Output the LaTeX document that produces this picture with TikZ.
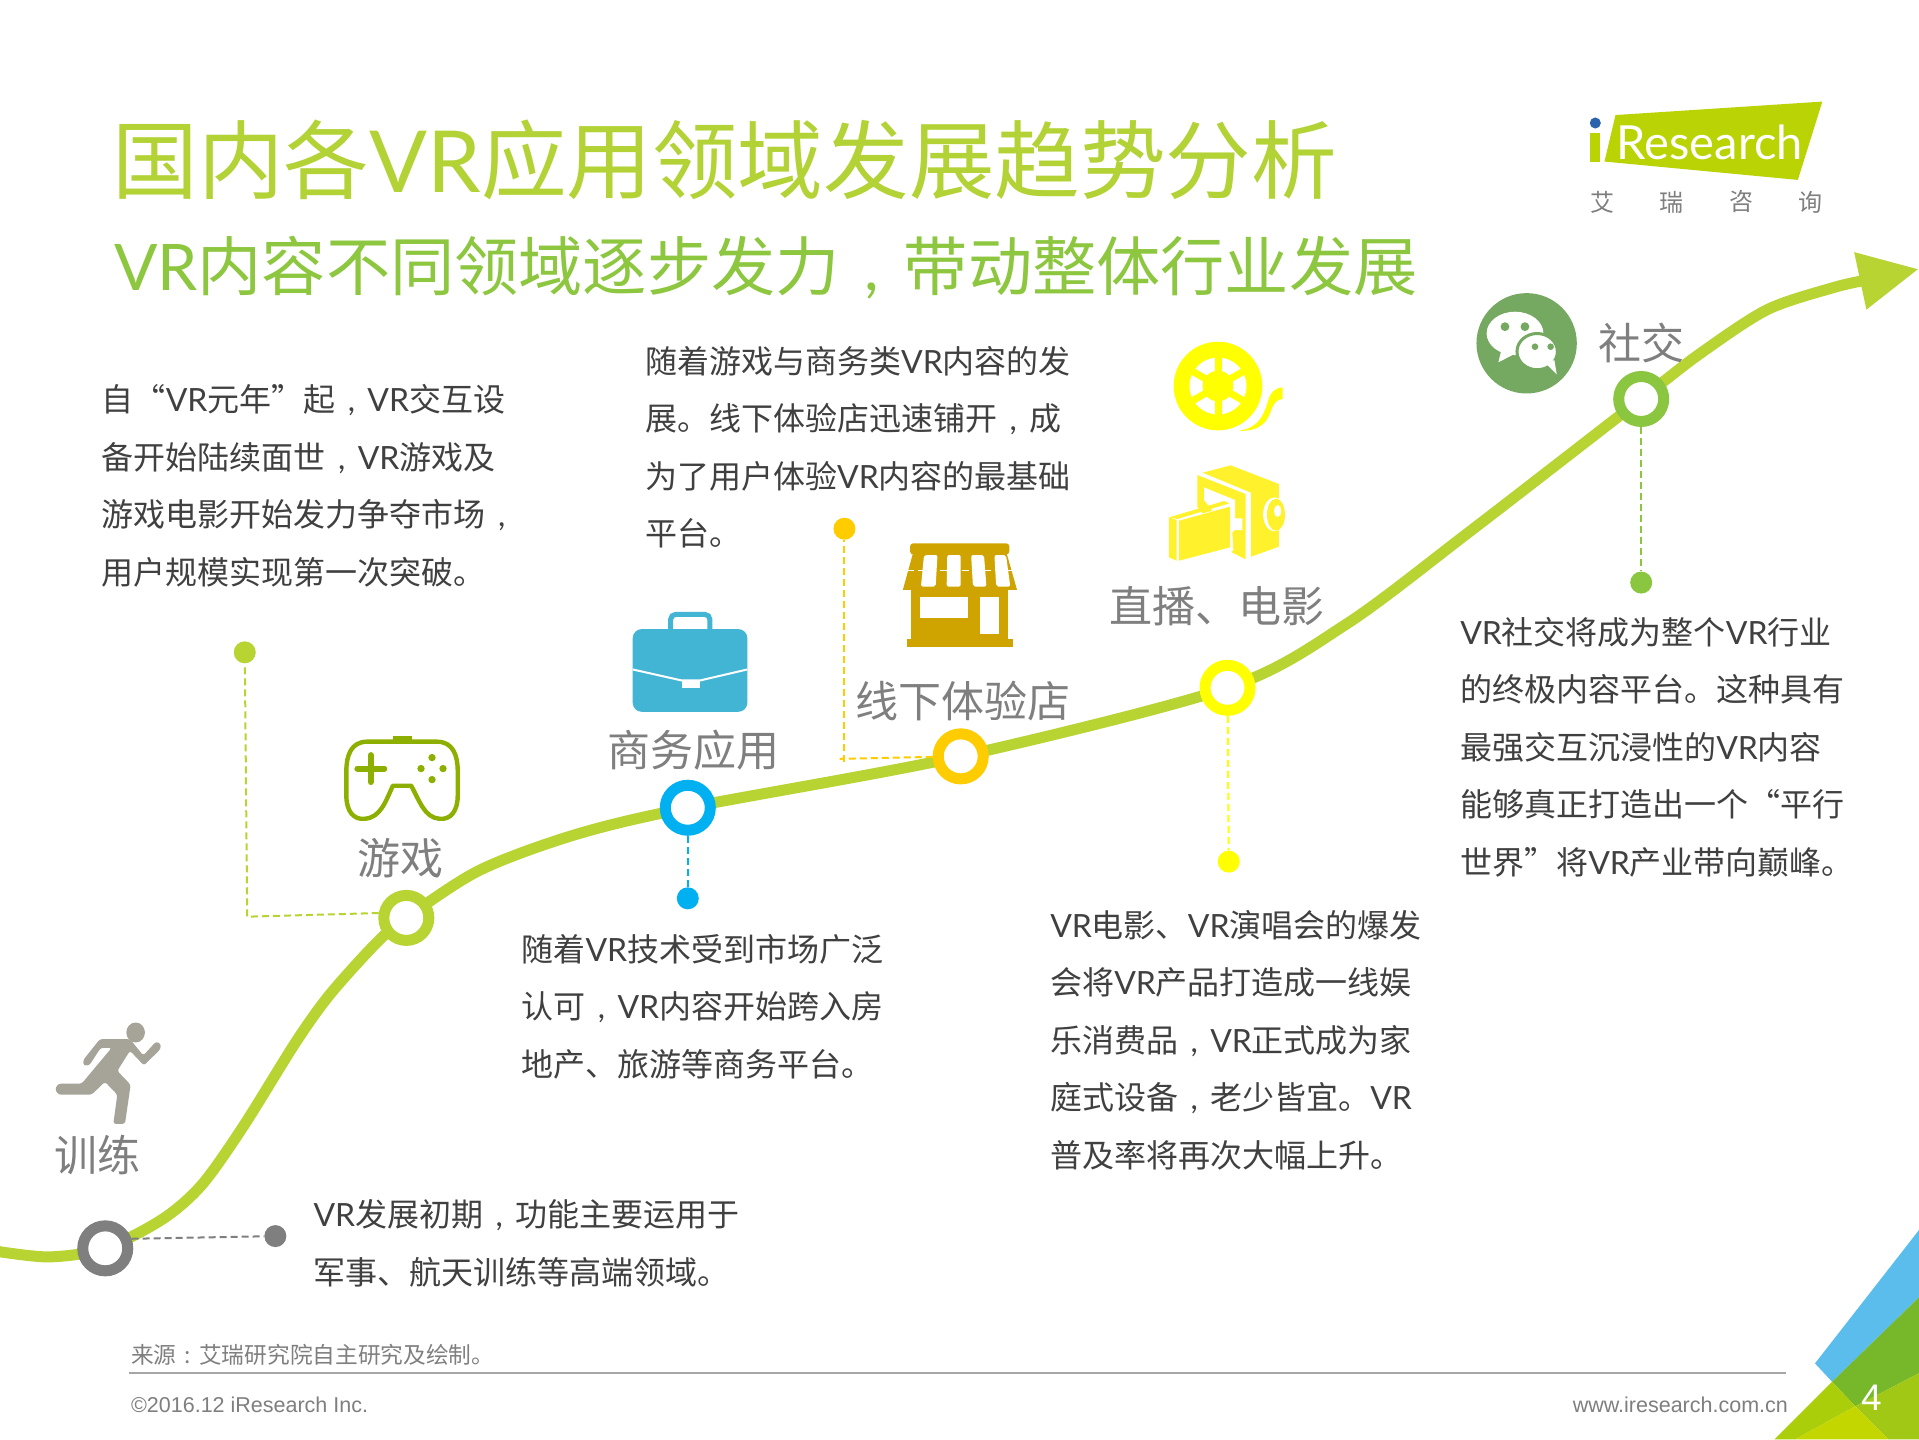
\documentclass[tikz,border=0pt]{standalone}
\usepackage{fontspec}
\usetikzlibrary{calc}
\setmainfont{Noto Sans CJK SC}
\newfontfamily\arialf{Liberation Sans}
\newfontfamily\latof{Lato}
\newcommand\VRx{{\latof VR}}
\newcommand\cmx{\makebox[1em][c]{\latof ,}}
\definecolor{curveg}{HTML}{B7D433}
\definecolor{titleg}{HTML}{B2D235}
\definecolor{subg}{HTML}{8DC63F}
\definecolor{bodyc}{HTML}{404040}
\definecolor{labc}{HTML}{7F7F7F}
\definecolor{ringgray}{HTML}{7F7F7F}
\definecolor{ringblue}{HTML}{00B0F0}
\definecolor{ringorange}{HTML}{FFCC00}
\definecolor{ringyellow}{HTML}{FFFF00}
\definecolor{ringgreen}{HTML}{8AC640}
\definecolor{camy}{HTML}{FFF22D}
\definecolor{shopc}{HTML}{D0A400}
\definecolor{casec}{HTML}{42B4D4}
\definecolor{padc}{HTML}{8DB000}
\definecolor{runc}{HTML}{A6A398}
\definecolor{wechatc}{HTML}{75A860}
\definecolor{logog}{HTML}{B9D305}
\definecolor{cornerblue}{HTML}{5BBDEB}
\definecolor{cornergreen}{HTML}{76B82A}
\definecolor{cornerlime}{HTML}{AACF0A}
\definecolor{corneroli}{HTML}{A0C814}
\definecolor{corneryel}{HTML}{C4D600}
\definecolor{logoblue}{HTML}{2A62AE}
\definecolor{rulec}{HTML}{A6A6A6}
\tikzset{
  ring/.style={circle,draw=#1,fill=white,line width=11pt,minimum size=45pt,inner sep=0pt},
  dotnode/.style={circle,fill=#1,minimum size=22pt,inner sep=0pt},
  dashc/.style={draw=#1,line width=2pt,dash pattern=on 7pt off 4pt},
  body/.style={anchor=north west,inner sep=0pt,align=left,text=bodyc,font=\fontsize{32}{57.5}\selectfont},
  lab/.style={inner sep=0pt,text=labc,font=\fontsize{43}{50}\selectfont},
}
\begin{document}
\begin{tikzpicture}[x=1.22385pt,y=-1.22385pt]
\useasboundingbox (0,0) rectangle (1568,1176);
\fill[white] (0,0) rectangle (1568,1176);

% corner shapes
\fill[cornerblue] (1483,1114) -- (1568,1005) -- (1568,1060) -- (1497,1129) -- cycle;
\fill[cornergreen] (1497,1129) -- (1568,1060) -- (1568,1122) -- (1516,1149) -- cycle;
\fill[cornerlime] (1497,1129) -- (1516,1149) -- (1467,1176) -- (1450,1176) -- cycle;
\fill[corneroli] (1516,1149) -- (1568,1122) -- (1568,1176) -- (1543,1176) -- cycle;
\fill[corneryel] (1516,1149) -- (1543,1176) -- (1467,1176) -- cycle;
\node[inner sep=0pt,text=white,font=\arialf\fontsize{37}{40}\selectfont] (pageno) at (1529,1142) {4};

% title
\node[anchor=west,inner sep=0pt,text=titleg,font=\fontsize{85.6}{90}\selectfont] (title) at (92,131) {国内各\VRx{}应用领域发展趋势分析};
\node[anchor=west,inner sep=0pt,text=subg,font=\fontsize{64.2}{70}\selectfont] (subtitle) at (93,219) {\VRx{}内容不同领域逐步发力\cmx{}带动整体行业发展};

% logo
\fill[logog] (1320,94) -- (1489,83) -- (1469,147) -- (1311,132) -- cycle;
\fill[logog] (1299,109) rectangle (1307,132);
\fill[logoblue] (1303.5,100.5) circle [radius=4.5];
\node[inner sep=0pt,text=white,font=\latof\fontsize{47}{50}\selectfont] (logotext) at (1397,116) {Research};
\foreach \n/\x/\c in {la/1309/艾,lb/1366/瑞,lc/1423/咨,ld/1479/询}
  \node[inner sep=0pt,text=labc,font=\fontsize{24}{26}\selectfont] (\n) at (\x,165) {\c};

% main curve
\fill[curveg] (1567,220) -- (1515,206) -- (1525,253) -- cycle;
\draw[curveg,line width=11pt] plot[smooth,tension=0.5] coordinates {(-5,1022) (40,1027) (86,1020) (133,996) (165,968) (199,920) (242,851) (270,812) (308,770) (332,750) (392,711) (470,682) (562,660) (785,618) (1003,562) (1100,510) (1200,435) (1341,326) (1389,289) (1444,253) (1498,235) (1524,229)};

% rings and dots
\node[ring=ringgray] (r1) at (86,1020) {};
\node[ring=curveg] (r2) at (332,750) {};
\node[ring=ringblue] (r3) at (562,660) {};
\node[ring=ringorange] (r4) at (785,618) {};
\node[ring=ringyellow] (r5) at (1003,562) {};
\node[ring=ringgreen] (r6) at (1341,326) {};
\node[dotnode=ringgray] (d1) at (225,1010) {};
\node[dotnode=curveg] (d2) at (200,533) {};
\node[dotnode=ringblue] (d3) at (562,734) {};
\node[dotnode=ringorange] (d4) at (690,432) {};
\node[dotnode=ringyellow] (d5) at (1004,704) {};
\node[dotnode=ringgreen] (d6) at (1341,476) {};
\coordinate (c2) at (202,749);
\coordinate (c4) at (686,620);
\coordinate (c4b) at (690,623);
\draw[dashc=ringgray] (r1.20) -- (d1);
\draw[dashc=curveg] (r2.170) -- (c2) -- (d2);
\draw[dashc=ringblue] (r3) -- (d3);
\draw[dashc=ringorange] (r4) -- (c4);
\draw[dashc=ringorange] (c4b) -- (d4);
\draw[dashc=ringyellow] (r5) -- (d5);
\draw[dashc=ringgreen] (r6) -- (d6);

% runner (zoomed coordinates)
\begin{scope}[shift={(24.5,588.3)},x=0.3333pt,y=-0.3655pt]
\fill[runc] (317,855) ellipse [x radius=9.3pt,y radius=10pt];
\fill[runc,rounded corners=2.5pt] (160,930) -- (210,873) -- (300,873) -- (340,918) -- (378,880) -- (392,885) -- (392,900) -- (342,945) -- (300,905) -- (262,960) -- (302,998) -- (285,1105) -- (250,1105) -- (262,1025) -- (225,990) -- (185,1025) -- (85,1025) -- (75,1010) -- (85,995) -- (155,995) -- (245,897) -- (212,897) -- (178,945) -- (160,945) -- cycle;
\end{scope}

% gamepad
\begin{scope}[padc]
\fill (321,601) rectangle (337,606);
\draw[line width=4.4pt,line join=round] (300,606) -- (357,606) .. controls (370,606) and (374,617) .. (374,630) -- (374,650) .. controls (374,663) and (368,670) .. (359,669) .. controls (347,668) and (343,655) .. (336,642) -- (321,642) .. controls (315,655) and (311,668) .. (298,669) .. controls (289,670) and (283,663) .. (283,650) -- (283,630) .. controls (283,617) and (287,606) .. (300,606) -- cycle;
\draw[line width=6pt,line cap=round] (292,628) -- (314,628) (303,617) -- (303,639);
\fill (353,619) circle [radius=3] (353,637) circle [radius=3] (344,628) circle [radius=3] (362,628) circle [radius=3];
\end{scope}

% briefcase
\begin{scope}[casec]
\draw[line width=5pt,rounded corners=5pt] (548,515) -- (548,502) -- (580,502) -- (580,515);
\fill[rounded corners=9pt] (517,514) rectangle (610.6,581.6);
\draw[white,line width=2pt] (517,547) -- (557,556) -- (572,556) -- (610.6,547);
\fill[white] (557,555.6) rectangle (572,562);
\end{scope}

% shop
\begin{scope}[shopc]
\fill[rounded corners=3pt] (743.6,444) rectangle (824.7,453);
\fill (746,452) -- (822.5,452) -- (831,482) -- (737.7,482) -- cycle;
\fill (744.3,482) rectangle (823.9,522);
\fill (740.8,522) rectangle (827.4,529);
\fill[white] (751.7,487.5) rectangle (790.7,505.2);
\fill[white] (800.7,487.5) rectangle (816.2,518);
\fill[white,rounded corners=2pt] (755,453.5) -- (766,453.5) -- (764.5,479.3) -- (752.5,479.3) -- cycle;
\fill[white,rounded corners=2pt] (774,453.5) -- (785,453.5) -- (785,479.3) -- (773.5,479.3) -- cycle;
\fill[white,rounded corners=2pt] (793.5,453.5) -- (804,453.5) -- (806,479.3) -- (795,479.3) -- cycle;
\fill[white,rounded corners=2pt] (812.5,453.5) -- (822,453.5) -- (825.5,479.3) -- (814,479.3) -- cycle;
\draw[white,line width=1.6pt,dash pattern=on 7pt off 4pt] (740.8,466) -- (826.6,466);
\end{scope}

% film reel and camera (drawn in 3x zoomed pixels)
\begin{scope}[shift={(898.8,261.5)},x=0.3333pt,y=-0.3333pt]
\fill[ringyellow] (354,198) circle [radius=44.3pt];
\fill[white] (354,198) circle [radius=28.5pt];
\foreach \a in {30,90,150}
  \draw[ringyellow,line width=7pt] ($(354,198)+(\a:30pt)$) -- ($(354,198)+(\a+180:30pt)$);
\fill[ringyellow] (354,198) circle [radius=15.3pt];
\fill[ringyellow] (415,332) .. controls (470,325) and (490,295) .. (505,240) .. controls (512,215) and (530,202) .. (548,202) -- (548,237) .. controls (530,237) and (520,250) .. (510,280) .. controls (495,320) and (460,335) .. (415,332) -- cycle;
\fill[camy] (308,458) -- (392,436) -- (537,492) -- (537,680) -- (453,710) -- (453,518) -- cycle;
\fill[camy] (292,465) -- (437,522) -- (437,718) -- (392,695) -- (292,560) -- cycle;
\fill[white] (312,502) -- (405,540) -- (405,595) -- (427,595) -- (427,630) -- (405,630) -- (392,640) -- (312,540) -- cycle;
\fill[white] (205,597) -- (232,600) -- (392,558) -- (400,690) -- (392,697) -- (237,735) -- (200,720) -- cycle;
\fill[camy] (207,592) -- (372,543) -- (388,550) -- (232,597) -- cycle;
\fill[camy] (237,602) -- (390,560) -- (390,682) -- (237,722) -- cycle;
\fill[camy] (207,592) -- (230,600) -- (230,722) -- (207,712) -- cycle;
\fill[camy] (512,582) ellipse [x radius=15pt,y radius=18.5pt];
\fill[white] (524,583) ellipse [x radius=11.5pt,y radius=17pt];
\fill[camy] (528,584) ellipse [x radius=9pt,y radius=16pt];
\fill[white] (533,573) ellipse [x radius=3.5pt,y radius=6pt];
\end{scope}

% wechat
\fill[wechatc] (1247.4,280.5) circle [radius=41];
\fill[white] (1237.9,272.4) ellipse [x radius=23.2,y radius=17.7];
\fill[white] (1227,285) -- (1224.3,296) -- (1238,289) -- cycle;
\fill[white,draw=wechatc,line width=3pt] (1256,287.3) ellipse [x radius=16.5,y radius=14.8];
\fill[white] (1264,298) -- (1272,306) -- (1270,294) -- cycle;
\fill[wechatc] (1229.7,266.9) circle [radius=3.6] (1246,266.9) circle [radius=3.6] (1254.2,283.3) circle [radius=2.7] (1267,283.3) circle [radius=2.7];

% labels
\node[lab] (l1) at (80,944) {训练};
\node[lab] (l2) at (327,701) {游戏};
\node[lab] (l3) at (567,613) {商务应用};
\node[lab] (l4) at (787,573) {线下体验店};
\node[lab] (l5) at (994,495) {直播、电影};
\node[lab] (l6) at (1341,280) {社交};

% body text
\node[body] (p1) at (83,314) {自“\VRx{}元年”起\cmx{}\VRx{}交互设\\备开始陆续面世\cmx{}\VRx{}游戏及\\游戏电影开始发力争夺市场\cmx{}\\用户规模实现第一次突破。};
\node[body] (p2) at (527,282.5) {随着游戏与商务类\VRx{}内容的发\\展。线下体验店迅速铺开\cmx{}成\\为了用户体验\VRx{}内容的最基础\\平台。};
\node[body] (p3) at (426,763) {随着\VRx{}技术受到市场广泛\\认可\cmx{}\VRx{}内容开始跨入房\\地产、旅游等商务平台。};
\node[body] (p4) at (858,743.5) {\VRx{}电影、\VRx{}演唱会的爆发\\会将\VRx{}产品打造成一线娱\\乐消费品\cmx{}\VRx{}正式成为家\\庭式设备\cmx{}老少皆宜。\VRx{}\\普及率将再次大幅上升。};
\node[body] (p5) at (1193,504) {\VRx{}社交将成为整个\VRx{}行业\\的终极内容平台。这种具有\\最强交互沉浸性的\VRx{}内容\\能够真正打造出一个“平行\\世界”将\VRx{}产业带向巅峰。};
\node[body] (p6) at (256,980) {\VRx{}发展初期\cmx{}功能主要运用于\\军事、航天训练等高端领域。};

% footer
\node[anchor=west,inner sep=0pt,text=labc,font=\fontsize{22.7}{26}\selectfont] (src) at (107,1107) {来源\makebox[1em][c]{:}艾瑞研究院自主研究及绘制。};
\draw[rulec,line width=2pt] (105,1122) -- (1459,1122);
\node[anchor=west,inner sep=0pt,text=labc,font=\arialf\fontsize{21.5}{26}\selectfont] (copy) at (107,1148) {©2016.12 iResearch Inc.};
\node[anchor=east,inner sep=0pt,text=labc,font=\arialf\fontsize{21.5}{26}\selectfont] (url) at (1461,1148) {www.iresearch.com.cn};
\end{tikzpicture}
\end{document}
